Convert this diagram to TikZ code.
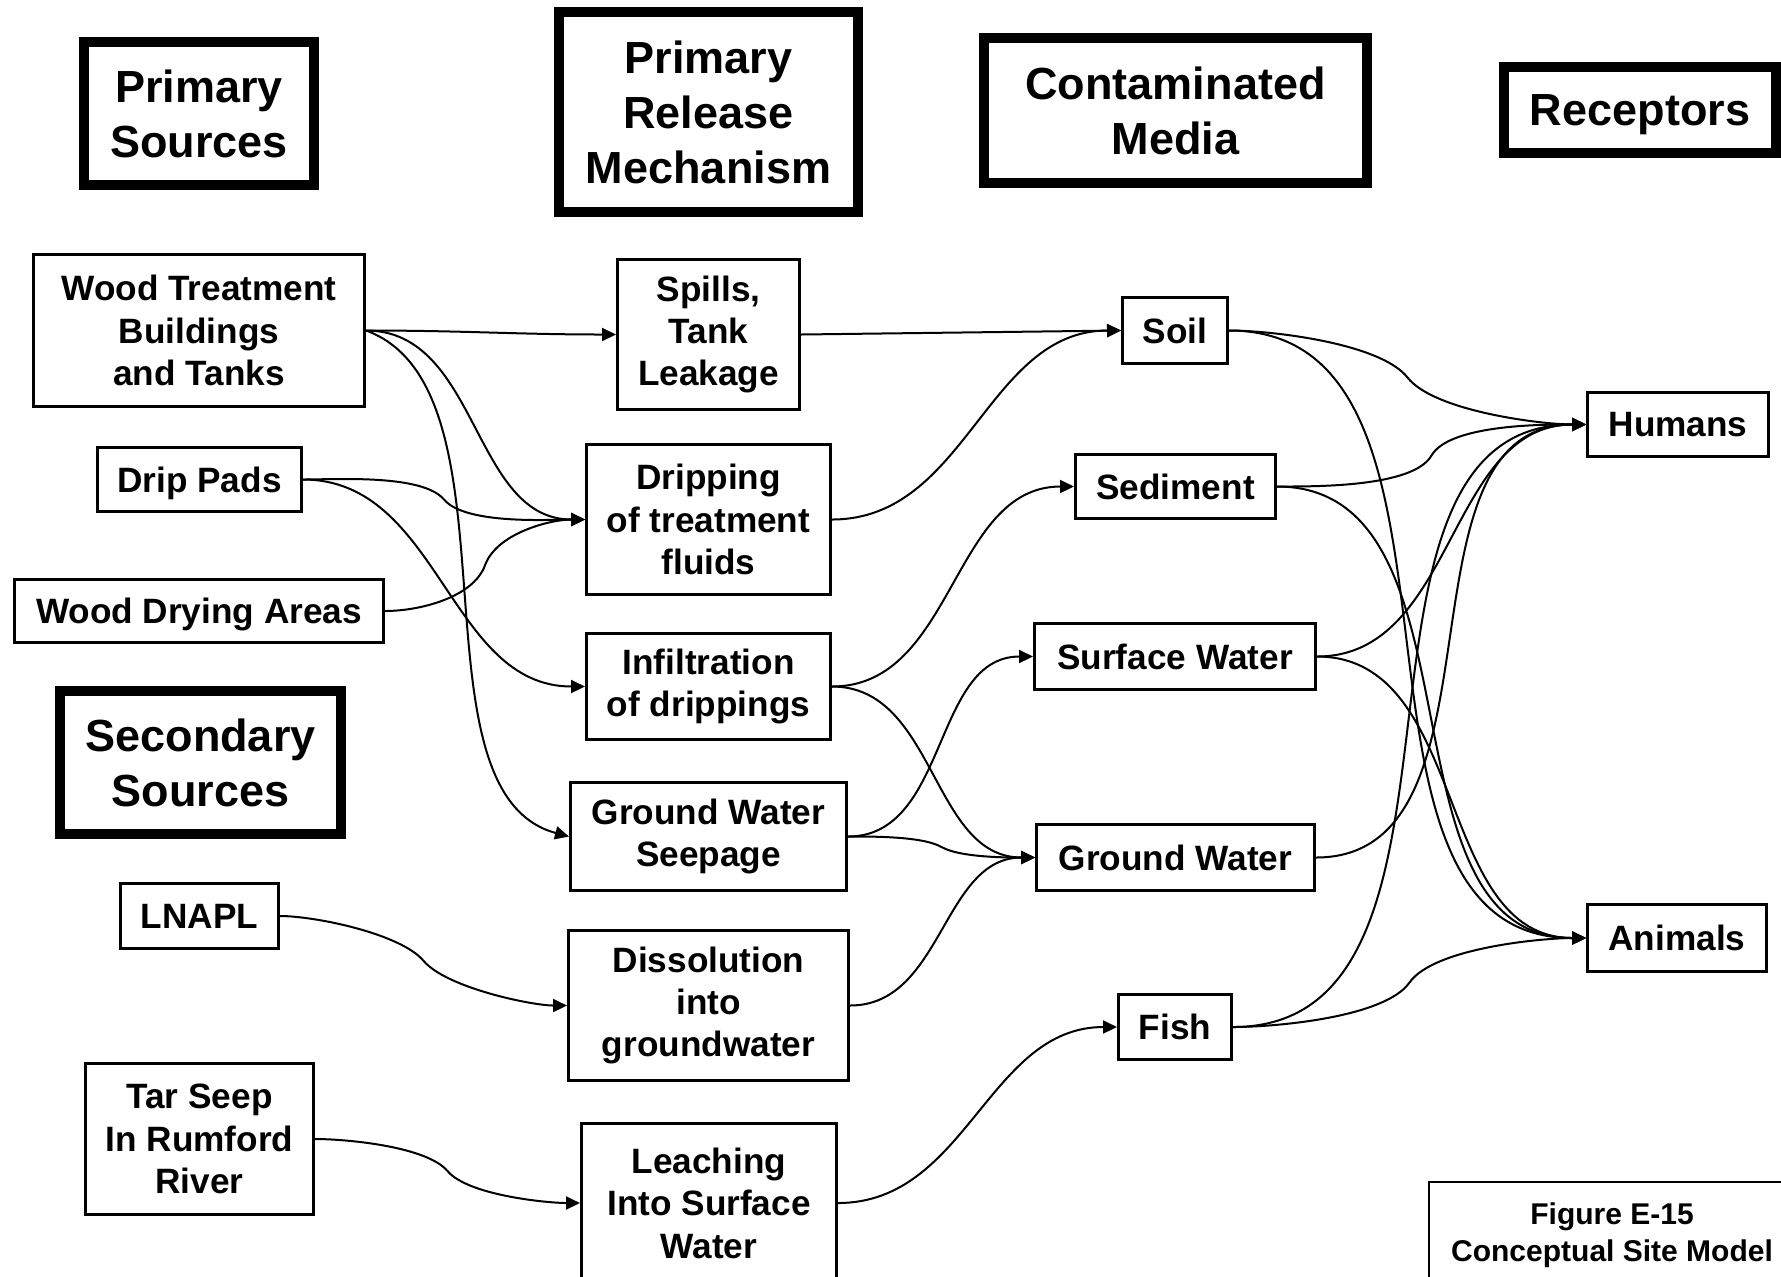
\documentclass[tikz,border=0pt]{standalone}
\usepackage{fontspec}
\setmainfont{Liberation Sans}
\usetikzlibrary{arrows.meta,calc}
\begin{document}
\begin{tikzpicture}[x=0.5pt,y=0.5pt,
  hdr/.style={draw, line width=5pt, inner sep=0pt, align=center, font=\fontsize{22.5}{27.5}\selectfont\bfseries},
  bx/.style={draw, line width=1.5pt, inner sep=0pt, align=center, font=\fontsize{17.6}{21.2}\selectfont\bfseries},
  one/.style={text depth=0pt},
  arr/.style={line width=1pt, -{Triangle[length=7pt,width=6.5pt]}},
  sz/.style 2 args={minimum width=#1*0.5pt, minimum height=#2*0.5pt}
]
\useasboundingbox (0,0) rectangle (1781,-1276);
\fill[white] (0,0) rectangle (1781,-1276);
\clip (0,0) rectangle (1781,-1276);

% headers
\node[hdr, sz={230}{143}] (ps) at (199,-113.5) {Primary\\Sources};
\node[hdr, sz={299}{200}] (prm) at (708.5,-112) {Primary\\Release\\Mechanism};
\node[hdr, sz={383}{145}] (cm) at (1175.5,-110.5) {Contaminated\\Media};
\node[hdr, one, sz={272}{86}] (rec) at (1640,-110) {Receptors};
\node[hdr, sz={281}{143}] (ss) at (200.5,-762.5) {Secondary\\Sources};

% sources
\node[bx, sz={331}{152}] (wt) at (199,-330.5) {Wood Treatment\\Buildings\\and Tanks};
\node[bx, one, sz={204}{64}] (dp) at (199.5,-479.5) {Drip Pads};
\node[bx, one, sz={369}{63}] (wd) at (199,-611) {Wood Drying Areas};
\node[bx, one, sz={158}{65}] (lnapl) at (199.5,-916) {LNAPL};
\node[bx, sz={228}{151}] (tar) at (199.5,-1139) {Tar Seep\\In Rumford\\River};

% release mechanisms
\node[bx, sz={182}{150}] (sp) at (708.5,-334.5) {Spills,\\Tank\\Leakage};
\node[bx, sz={244}{150}] (dr) at (708.5,-519.5) {Dripping\\of treatment\\fluids};
\node[bx, sz={244}{106}] (inf) at (708.5,-686.5) {Infiltration\\of drippings};
\node[bx, sz={276}{108}] (gws) at (708.5,-836.5) {Ground Water\\Seepage};
\node[bx, sz={280}{150}] (dis) at (708.5,-1005.5) {Dissolution\\into\\groundwater};
\node[bx, sz={255}{160}] (lea) at (709,-1203) {Leaching\\Into Surface\\Water};

% media
\node[bx, one, sz={105}{66}] (soil) at (1175,-330.5) {Soil};
\node[bx, one, sz={200}{64}] (sed) at (1175.5,-486.5) {Sediment};
\node[bx, one, sz={281}{66}] (sw) at (1175,-656.5) {Surface Water};
\node[bx, one, sz={278}{66}] (gw) at (1175.5,-857.5) {Ground Water};
\node[bx, one, sz={113}{65}] (fish) at (1175,-1027) {Fish};

% receptors
\node[bx, one, sz={181}{64}] (hum) at (1678,-424.5) {Humans};
\node[bx, one, sz={179}{67}] (ani) at (1677,-938) {Animals};

% caption
\node[inner sep=0pt, align=center, font=\fontsize{15}{18.5}\selectfont\bfseries] (fig) at (1612,-1235) {Figure E-15\\Conceptual Site Model};
\draw[line width=1.2pt] (1429,-1300) |- (1800,-1182);

% connectors: sources -> mechanisms
\draw[arr] (wt.east) to[out=0,in=180] (sp.west);
\draw[arr] (wt.east) to[out=0,in=180] (dr.west);
\draw[arr] (wt.east) to[out=-20,in=165,looseness=0.8] (gws.west);
\draw[arr] (dp.east) to[out=0,in=130,looseness=0.6] ($(dp.east)!0.5!(dr.west)$) to[out=-50,in=180,looseness=0.6] (dr.west);
\draw[arr] (dp.east) to[out=0,in=180] (inf.west);
\draw[arr] (wd.east) to[out=0,in=250,looseness=0.8] ($(wd.east)!0.5!(dr.west)$) to[out=70,in=180,looseness=0.8] (dr.west);
\draw[arr] (lnapl.east) to[out=0,in=130,looseness=0.6] ($(lnapl.east)!0.5!(dis.west)$) to[out=-50,in=180,looseness=0.6] (dis.west);
\draw[arr] (tar.east) to[out=0,in=130,looseness=0.6] ($(tar.east)!0.5!(lea.west)$) to[out=-50,in=180,looseness=0.6] (lea.west);

% mechanisms -> media
\draw[arr] (sp.east) -- (soil.west);
\draw[arr] (dr.east) to[out=0,in=180] (soil.west);
\draw[arr] (inf.east) to[out=0,in=180] (sed.west);
\draw[arr] (inf.east) to[out=0,in=180] (gw.west);
\draw[arr] (gws.east) to[out=0,in=180] (sw.west);
\draw[arr] (gws.east) to[out=0,in=150,looseness=0.6] ($(gws.east)!0.5!(gw.west)$) to[out=-30,in=180,looseness=0.6] (gw.west);
\draw[arr] (dis.east) to[out=0,in=180] (gw.west);
\draw[arr] (lea.east) to[out=0,in=180] (fish.west);

% media -> receptors
\draw[arr] (soil.east) to[out=0,in=128,looseness=0.6] ($(soil.east)!0.5!(hum.west)$) to[out=-52,in=180,looseness=0.6] (hum.west);
\draw[arr] (soil.east) to[out=0,in=180] (ani.west);
\draw[arr] (sed.east) to[out=0,in=240,looseness=0.6] ($(sed.east)!0.5!(hum.west)$) to[out=60,in=180,looseness=0.6] (hum.west);
\draw[arr] (sed.east) to[out=0,in=180] (ani.west);
\draw[arr] (sw.east) to[out=0,in=180] (hum.west);
\draw[arr] (sw.east) to[out=0,in=180] (ani.west);
\draw[arr] (gw.east) to[out=0,in=180] (hum.west);
\draw[arr] (fish.east) to[out=0,in=180] (hum.west);
\draw[arr] (fish.east) to[out=0,in=235,looseness=0.6] ($(fish.east)!0.5!(ani.west)$) to[out=55,in=180,looseness=0.6] (ani.west);
\end{tikzpicture}
\end{document}
